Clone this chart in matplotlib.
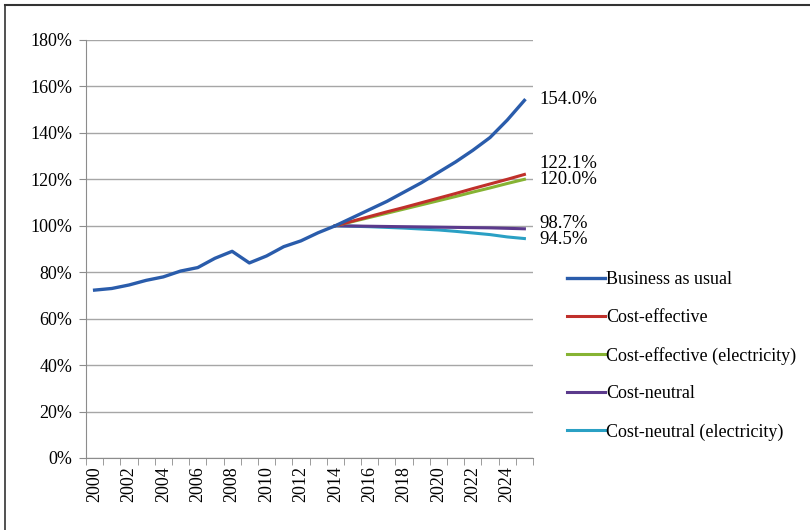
import matplotlib.pyplot as plt
from matplotlib.ticker import FuncFormatter
import numpy as np

years = list(range(2000, 2026))
bau = [72.3, 73, 74.5, 76.5, 78, 80.5, 82, 86, 89, 84, 87, 91, 93.5, 97, 100,
       103.5, 107, 110.5, 114.5, 118.5, 123, 127.5, 132.5, 138, 145.5, 154.0]
proj_years = list(range(2014, 2026))
cost_eff = [100, 102.0, 104.0, 106.0, 107.9, 109.9, 111.9, 113.9, 116.0, 118.0, 120.0, 122.1]
cost_eff_el = [100, 101.8, 103.6, 105.4, 107.2, 109.0, 110.8, 112.6, 114.5, 116.3, 118.2, 120.0]
cost_neu = [100, 99.9, 99.8, 99.7, 99.6, 99.5, 99.4, 99.3, 99.2, 99.1, 98.9, 98.7]
cost_neu_el = [100, 99.8, 99.6, 99.3, 99.0, 98.6, 98.2, 97.6, 96.9, 96.2, 95.2, 94.5]

names = ['Business as usual', 'Cost-effective', 'Cost-effective (electricity)',
         'Cost-neutral', 'Cost-neutral (electricity)']
colors = ['#2a5cab', '#c0302b', '#86b333', '#5b3a8c', '#2aa0c4']

plt.rcParams['font.family'] = ['Liberation Serif', 'DejaVu Serif']

fig = plt.figure(figsize=(8.1, 5.3), dpi=100)
ax = fig.add_axes([86/810, 1-458/530, (533-86)/810, (458-40)/530])

# projections drawn first so BAU sits on top
idx0 = years.index(2014)
xp = np.arange(idx0, idx0 + len(proj_years))
ax.plot(xp, cost_neu_el, color=colors[4], lw=2.2, label=names[4])
ax.plot(xp, cost_neu, color=colors[3], lw=2.2, label=names[3])
ax.plot(xp, cost_eff_el, color=colors[2], lw=2.2, label=names[2])
ax.plot(xp, cost_eff, color=colors[1], lw=2.2, label=names[1])
ax.plot(np.arange(len(years)), bau, color=colors[0], lw=2.4, label=names[0])

ax.set_xlim(-0.5, len(years) - 0.5)
ax.set_ylim(0, 180)
ax.set_yticks(np.arange(0, 181, 20))
ax.yaxis.set_major_formatter(FuncFormatter(lambda v, p: f'{v:.0f}%'))
ax.grid(axis='y', color='#a6a6a6', lw=1)
ax.set_axisbelow(True)

ax.set_xticks(np.arange(0, len(years), 2))
ax.set_xticklabels([str(y) for y in years[::2]], rotation=90)
ax.set_xticks(np.arange(-0.5, len(years)), minor=True)
ax.tick_params(axis='x', which='major', length=0, pad=6, labelsize=13)
ax.tick_params(axis='x', which='minor', length=5, color='#8c8c8c', direction='out')
ax.tick_params(axis='y', length=5, color='#8c8c8c', labelsize=13, pad=5)

for s in ['top', 'right']:
    ax.spines[s].set_visible(False)
for s in ['left', 'bottom']:
    ax.spines[s].set_color('#8c8c8c')

# end labels
ends = [(bau[-1], 100), (cost_eff[-1], 164), (cost_eff_el[-1], 180), (cost_neu[-1], 224), (cost_neu_el[-1], 240)]
for v, ypix in ends:
    fig.text(539/810, 1 - ypix/530, f'{v:.1f}%', fontsize=13.5, va='center', ha='left')

handles, labels = ax.get_legend_handles_labels()
order = [4, 3, 2, 1, 0]
fig.legend([handles[i] for i in order], [labels[i] for i in order],
           loc='upper left', bbox_to_anchor=(551/810, 1 - 255/530), frameon=False,
           fontsize=13, handlelength=2.1, handletextpad=0.05, labelspacing=1.15)

# page frame
fig.add_artist(plt.Line2D([5/810, 1], [1 - 5/530, 1 - 5/530], color='#333333', lw=1.5))
fig.add_artist(plt.Line2D([5/810, 5/810], [0, 1 - 5/530], color='#333333', lw=1.2))

fig.savefig('out.png', dpi=100)
